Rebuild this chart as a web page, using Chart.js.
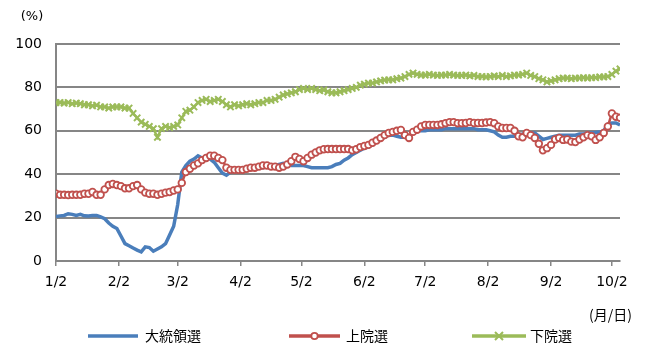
<!DOCTYPE html>
<html><head><meta charset="utf-8">
<script src="https://cdn.jsdelivr.net/npm/chart.js@4.4.0/dist/chart.umd.min.js"></script>
<style>html,body{margin:0;padding:0;background:#fff}#wrap{width:647px;height:345px;position:relative}</style>
</head><body><div id="wrap"><canvas id="c" width="647" height="345"></canvas></div>
<script>
// day offsets from 1/2
const days=[0,2,4,6,8,10,12,14,16,18,20,22,24,26,28,30,32,34,36,38,40,42,44,46,48,50,52,54,56,58,60,62,64,66,68,70,72,74,76,78,80,82,84,86,88,90,92,94,96,98,100,102,104,106,108,110,112,114,116,118,120,122,124,126,128,130,132,134,136,138,140,142,144,146,148,150,152,154,156,158,160,162,164,166,168,170,172,174,176,178,180,182,184,186,188,190,192,194,196,198,200,202,204,206,208,210,212,214,216,218,220,222,224,226,228,230,232,234,236,238,240,242,244,246,248,250,252,254,256,258,260,262,264,266,268,270,272,274,276,278];
const presidential=[20.5,20.8,21,21.8,21.5,21,21.5,20.8,20.7,21,
21,20.3,19.5,17.5,16,15,11.5,8,7,6,
5,4.2,6.5,6.2,4.5,5.5,6.5,8,12,16,
26,41,44,46,47,48.5,47.5,48,47,45.5,
43,40.5,39.5,41,41.5,42,42,42,42.5,43,
43,43,43.5,43.5,44,44.5,45,44.5,44,44,
44,44,43.5,43,43,43,43,43,43.5,44.5,
45,46.5,47.5,49,50,51,52,52.5,53.5,55,
56,57,58,58,57.5,57,57,57.5,59,60,
60,60,60.5,60.5,60.5,60.5,61,61,61,61,
61,61,61,61,60.5,60.5,60.5,60,59.5,58,
57,57,57.5,57.5,58,58.5,59,59,59,57.5,
56,56.5,57,57.5,58,58,58,58,58,58.5,
58.5,59,59,59.2,59.4,60,63,63.6,63.6,62.7];
const senate=[31,30.5,30.5,30.4,30.5,30.5,30.5,31,31,31.8,
30.5,30.5,33,35,35.5,35,34.5,33.5,33.5,34.5,
35,33,31.5,31,31,30.5,31,31.5,31.8,32.5,
33,36,41,42.5,44,45,46.5,47.5,48.5,48.5,
47.5,46.5,43,42,42,42,42,42.5,43,43,
43.5,44,44,43.5,43.5,43,43.5,44.5,46,48,
47,46,47.5,49,50,51,51.5,51.6,51.6,51.6,
51.6,51.6,51.6,51,51.5,52.5,53,53.5,54.5,55.5,
56.7,58,59,59.5,60,60.4,58,56.7,59.5,60.5,
62,62.7,62.7,62.7,62.7,63,63.5,64,64,63.5,
63.5,63.6,64,63.6,63.6,63.6,63.8,64,63.5,62,
61.3,61.3,61.3,60,57.5,57,59,58,56.7,54,
51,52,53.5,56,56.7,55.8,56,55,54.8,56,
57,58,57.5,55.8,57,59,62,68,66.5,66];
const house=[73,73,72.8,73,72.5,72.8,72.5,72,72,71.5,
71.8,71,71,70.5,71,71,71,70.5,70.5,68,
66,64,63,62,61,57,61,62,61.5,62,
62.7,66,69,69.5,71,73,74,74.5,73.5,74,
74.5,73.5,72,71,72,71.5,72,72.5,72,72.5,
73,73,74,74,74.5,75.5,76.5,77,77.5,78,
79,79.5,79,79.5,79,78.5,78.8,78,77.5,77.5,
78,78.5,79,79.5,80,81,81.5,82,82,82.5,
83,83.4,83.5,83.5,84,84.3,85,86,86.6,86,
85.7,85.7,86,85.7,85.5,85.7,85.7,86,85.7,85.5,
85.5,85.7,85.3,85.5,85,85,84.8,85,85.3,85,
85.5,85,85.3,85.7,85.7,86,86.6,85.5,85,84,
83.5,82.5,83,83.5,84,84.3,84.3,84,84.3,84.3,
84.5,84.3,84.5,84.5,84.8,84.8,85,86,87.5,88.5];
const seriesNames=['大統領選','上院選','下院選'];
const monthTickDays=[0,31,60,91,121,152,182,213,244,274];
const monthTickLabels=['1/2','2/2','3/2','4/2','5/2','6/2','7/2','8/2','9/2','10/2'];
const yTicks=[0,20,40,60,80,100];

const BLUE='#4a7ebb', RED='#c0504d', GREEN='#9bbb59', GRID='#868686';
const numFont={family:'"DejaVu Sans", Verdana, sans-serif', size:14};
const pts=a=>a.map((v,i)=>({x:days[i],y:v}));

const extras={
  id:'extras',
  afterDraw(chart){
    const ctx=chart.ctx;
    ctx.save();
    ctx.fillStyle='#000';
    ctx.textBaseline='middle';
    ctx.font='13px "DejaVu Sans", sans-serif';
    ctx.textAlign='center';
    ctx.fillText('(%)',32,17);
    ctx.font='14px "Noto Sans CJK JP", sans-serif';
    ctx.textAlign='right';
    ctx.fillText('(月/日)',632,315);
    // legend
    const items=[
      {x1:88,x2:138,tx:145,color:BLUE,mark:null},
      {x1:289,x2:340,tx:346,color:RED,mark:'circle'},
      {x1:472,x2:526,tx:530,color:GREEN,mark:'cross'}];
    const ly=336;
    items.forEach((it,i)=>{
      ctx.strokeStyle=it.color;
      ctx.lineWidth=3.5;
      ctx.lineCap='butt';
      ctx.beginPath();ctx.moveTo(it.x1,ly);ctx.lineTo(it.x2,ly);ctx.stroke();
      const cx=(it.x1+it.x2)/2;
      if(it.mark==='circle'){
        ctx.fillStyle='#fff';ctx.lineWidth=1.8;
        ctx.beginPath();ctx.arc(cx,ly,3.2,0,Math.PI*2);ctx.fill();ctx.stroke();
      } else if(it.mark==='cross'){
        ctx.lineWidth=2;
        ctx.beginPath();ctx.moveTo(cx-4,ly-4);ctx.lineTo(cx+4,ly+4);ctx.moveTo(cx+4,ly-4);ctx.lineTo(cx-4,ly+4);ctx.stroke();
      }
      ctx.fillStyle='#000';
      ctx.textAlign='left';
      ctx.font='14px "Noto Sans CJK JP", sans-serif';
      ctx.fillText(seriesNames[i],it.tx,ly);
    });
    ctx.restore();
  }
};

new Chart(document.getElementById('c'),{
  type:'line',
  data:{datasets:[
    {label:seriesNames[0],data:pts(presidential),borderColor:BLUE,backgroundColor:BLUE,borderWidth:3.5,pointRadius:0,order:3,tension:0},
    {label:seriesNames[1],data:pts(senate),borderColor:RED,backgroundColor:'#fff',borderWidth:2.5,pointStyle:'circle',pointRadius:3.3,pointBorderWidth:1.8,pointBackgroundColor:'#fff',pointBorderColor:RED,order:2,tension:0},
    {label:seriesNames[2],data:pts(house),borderColor:GREEN,backgroundColor:GREEN,borderWidth:2.5,pointStyle:'crossRot',pointRadius:4.5,pointBorderWidth:2,pointBorderColor:GREEN,order:1,tension:0}
  ]},
  options:{
    responsive:false,animation:false,devicePixelRatio:1,
    layout:{padding:{left:0,top:44,right:27,bottom:44}},
    plugins:{legend:{display:false},tooltip:{enabled:false}},
    scales:{
      x:{type:'linear',min:0,max:278,
        afterBuildTicks:s=>{s.ticks=monthTickDays.map(v=>({value:v}));},
        afterFit:s=>{s.height=40;},
        ticks:{autoSkip:false,maxRotation:0,color:'#000',font:numFont,padding:8,
          callback:v=>{const k=monthTickDays.indexOf(v);return k<0?'':monthTickLabels[k];}},
        grid:{drawOnChartArea:false,drawTicks:true,tickLength:5,color:GRID,lineWidth:1.5},
        border:{color:GRID,width:2}},
      y:{min:0,max:100,
        afterBuildTicks:s=>{s.ticks=yTicks.map(v=>({value:v}));},
        afterFit:s=>{s.width=56;},
        ticks:{color:'#000',font:numFont,padding:14},
        grid:{color:GRID,lineWidth:2,drawTicks:false},
        border:{color:GRID,width:2}}
    }
  },
  plugins:[extras]
});
</script></body></html>
